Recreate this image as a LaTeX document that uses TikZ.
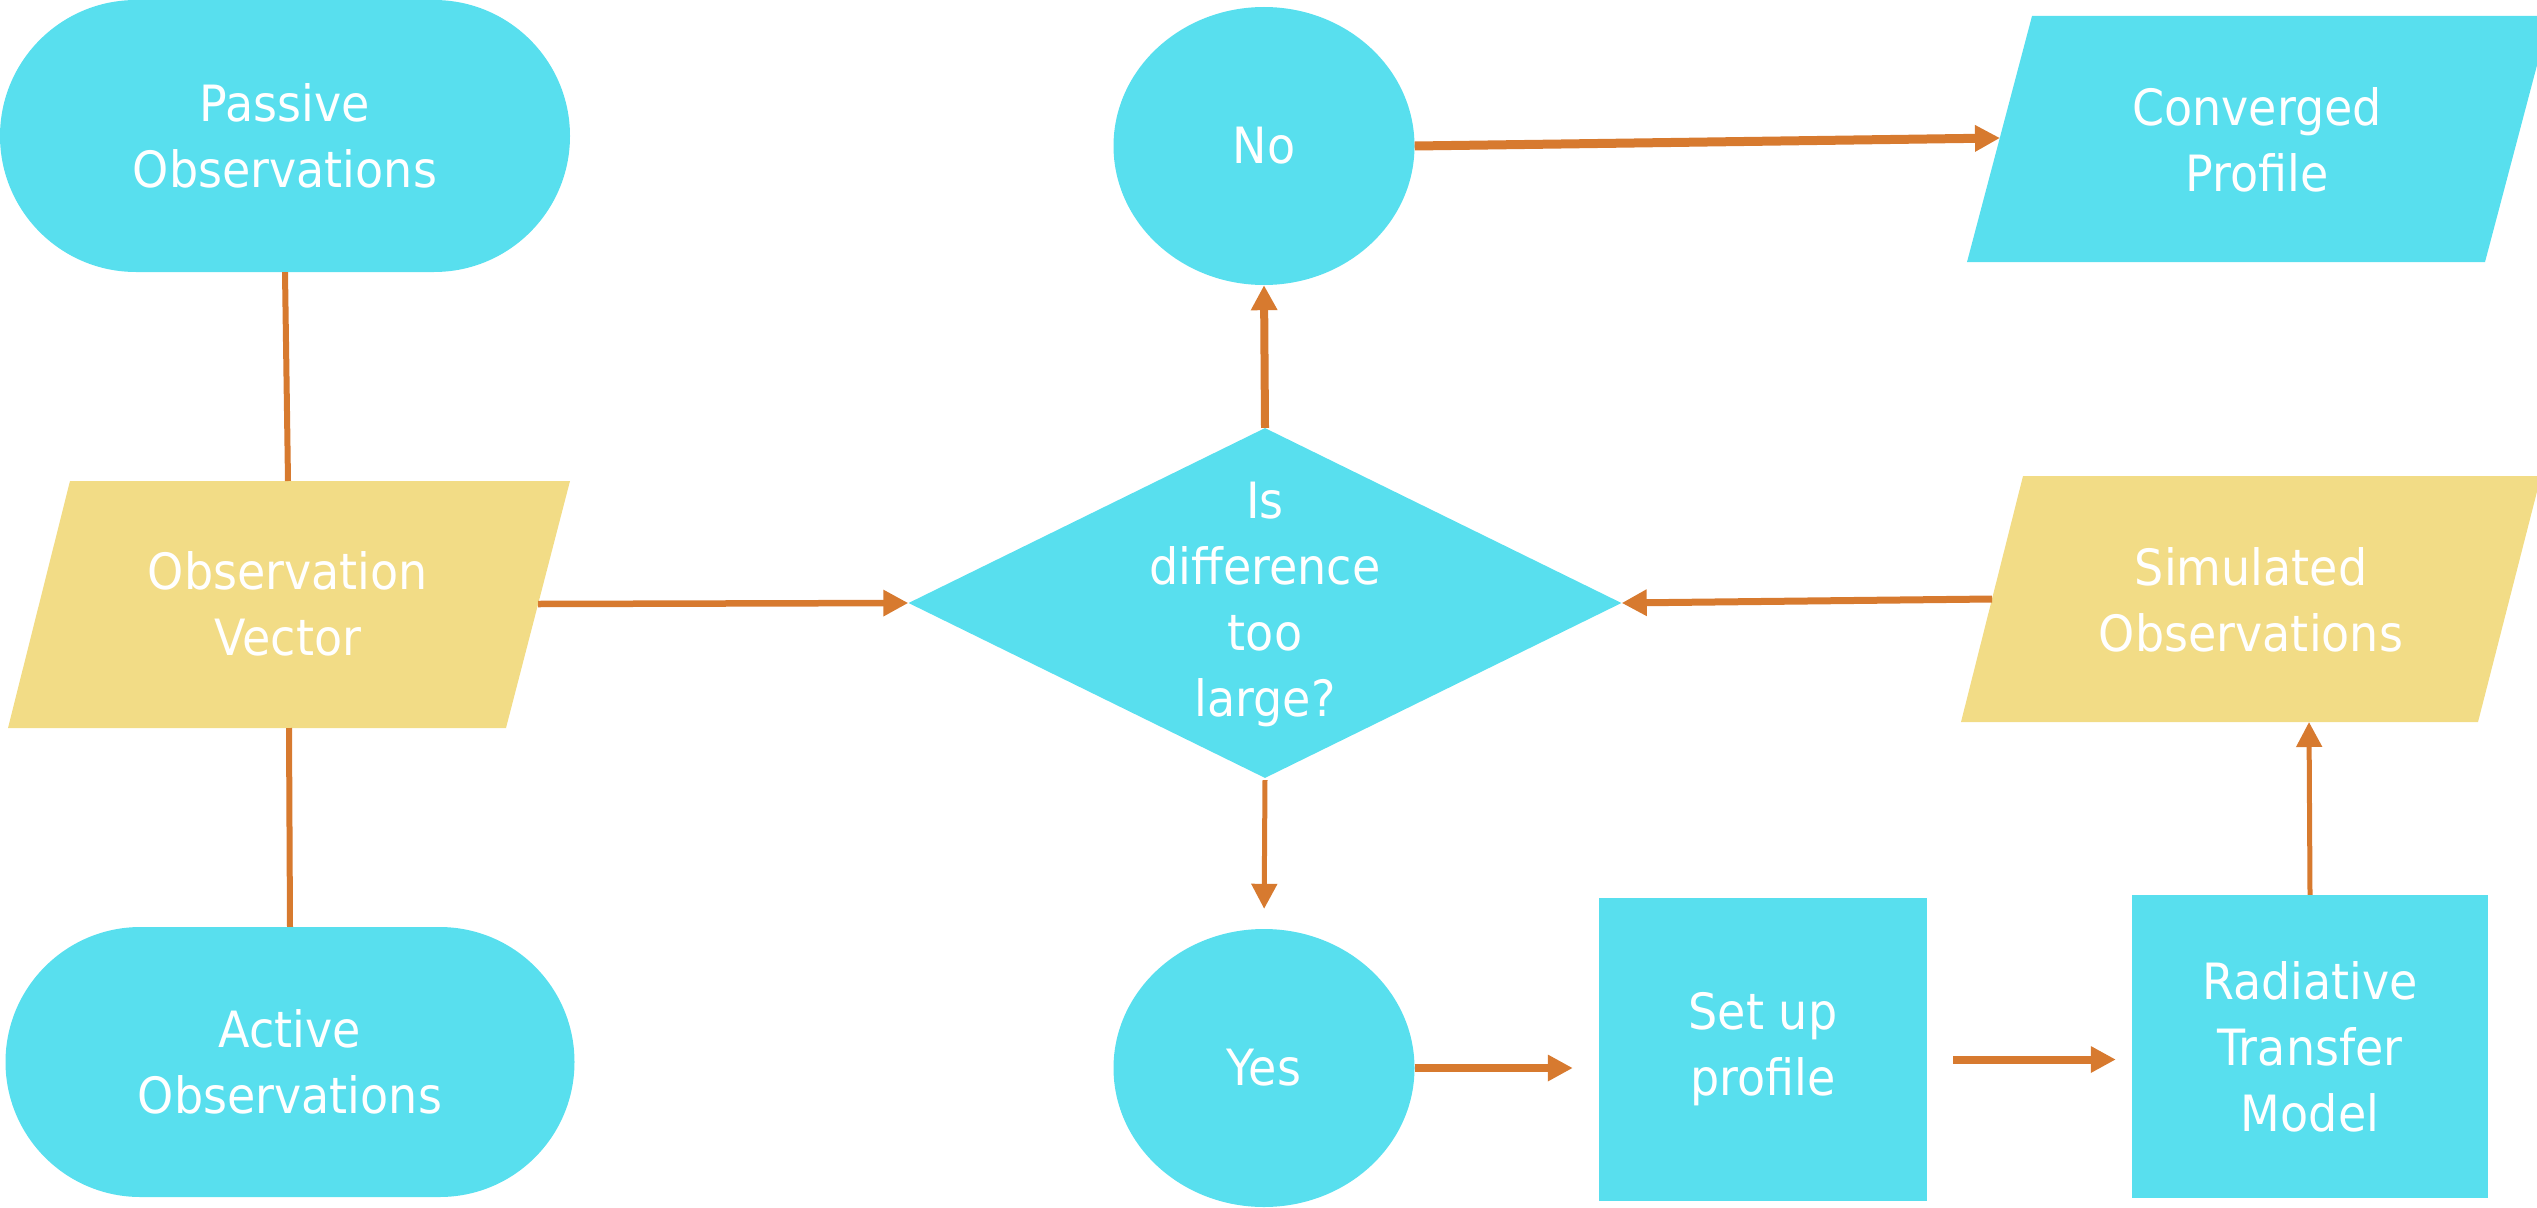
\documentclass[tikz,border=0pt]{standalone}
\usepackage{fontspec}
\setmainfont{DejaVu Sans}[FakeStretch=0.92]
\usetikzlibrary{arrows.meta,shapes.geometric,shapes.misc}

\definecolor{flowcyan}{HTML}{58DFEE}
\definecolor{flowyellow}{HTML}{F2DC86}
\definecolor{floworange}{HTML}{D77A2F}

\begin{document}
\begin{tikzpicture}[x=1pt,y=-1pt,
  lbl/.style={text=white, align=center, inner sep=0pt,
              font=\fontsize{50}{66}\selectfont},
  terminal/.style={lbl, rounded rectangle, fill=flowcyan,
                   minimum width=570pt, minimum height=272pt},
  answer/.style={lbl, ellipse, fill=flowcyan,
                 minimum width=301pt, minimum height=278pt},
  process/.style={lbl, rectangle, fill=flowcyan, minimum height=303pt},
  link/.style={draw=floworange, line width=6pt},
  arr/.style={link, -{Triangle[length=25pt,width=25pt]}}]

\useasboundingbox (0,0) rectangle (2537,1207);
\clip (0,0) rectangle (2537,1207);

% --- observation inputs (left column) ---
\node[terminal] (passive) at (285,136) {Passive\\Observations};
\node[terminal, minimum width=569pt, minimum height=270pt] (active) at (290,1062) {Active\\Observations};

\fill[flowyellow] (70,481) -- (570,481) -- (506,728) -- (8,728) -- cycle;
\node[lbl] (obsv) at (288,604) {Observation\\Vector};
\coordinate (obsvN) at (288,481);
\coordinate (obsvS) at (289,728);
\coordinate (obsvE) at (538,604);

% --- decision ---
\node[diamond, fill=flowcyan, inner sep=0pt,
      minimum width=713pt, minimum height=350pt] (dec) at (1265,603) {};
\node[lbl] (dectext) at (1265,604) {Is\\difference\\too\\large?};

\node[answer] (no)  at (1264,146)  {No};
\node[answer] (yes) at (1264,1068) {Yes};

% --- outputs on the right ---
\fill[flowcyan] (2032,16) -- (2550,16) -- (2485,262) -- (1967,262) -- cycle;
\node[lbl] (conv) at (2257,140) {Converged\\Profile};
\coordinate (convW) at (2000,138);

\fill[flowyellow] (2023,476) -- (2541,476) -- (2478,722) -- (1961,722) -- cycle;
\node[lbl] (sim) at (2251,600) {Simulated\\Observations};
\coordinate (simW) at (1992,599);
\coordinate (simS) at (2309,722);

% --- processing boxes ---
\node[process, minimum width=328pt] (setup) at (1763,1049.5) {Set up\\profile};
\node[process, minimum width=356pt] (rtm) at (2310,1046.5) {Radiative\\Transfer\\Model};

% --- connectors ---
\draw[link] (passive.south) -- (obsvN);
\draw[link] (obsvS) -- (active.north);
\draw[arr, line width=6.5pt] (obsvE) -- (dec.west);
\draw[arr, line width=8pt] (dec.north) -- (no.south);
\draw[arr, line width=9pt] (no.east) -- (convW);
\draw[arr, line width=7pt] (simW) -- (dec.east);
\draw[arr, line width=5pt, shorten <=2pt, shorten >=20pt] (dec.south) -- (yes.north);
\draw[arr, line width=8pt, shorten >=26pt] (yes.east) -- (yes.east -| setup.west);
\draw[arr, line width=8pt, shorten <=26pt, shorten >=16pt]
  ([yshift=-10pt]setup.east) -- ([yshift=-13pt]rtm.west);
\draw[arr, line width=5pt] (rtm.north) -- (simS);
\end{tikzpicture}
\end{document}
